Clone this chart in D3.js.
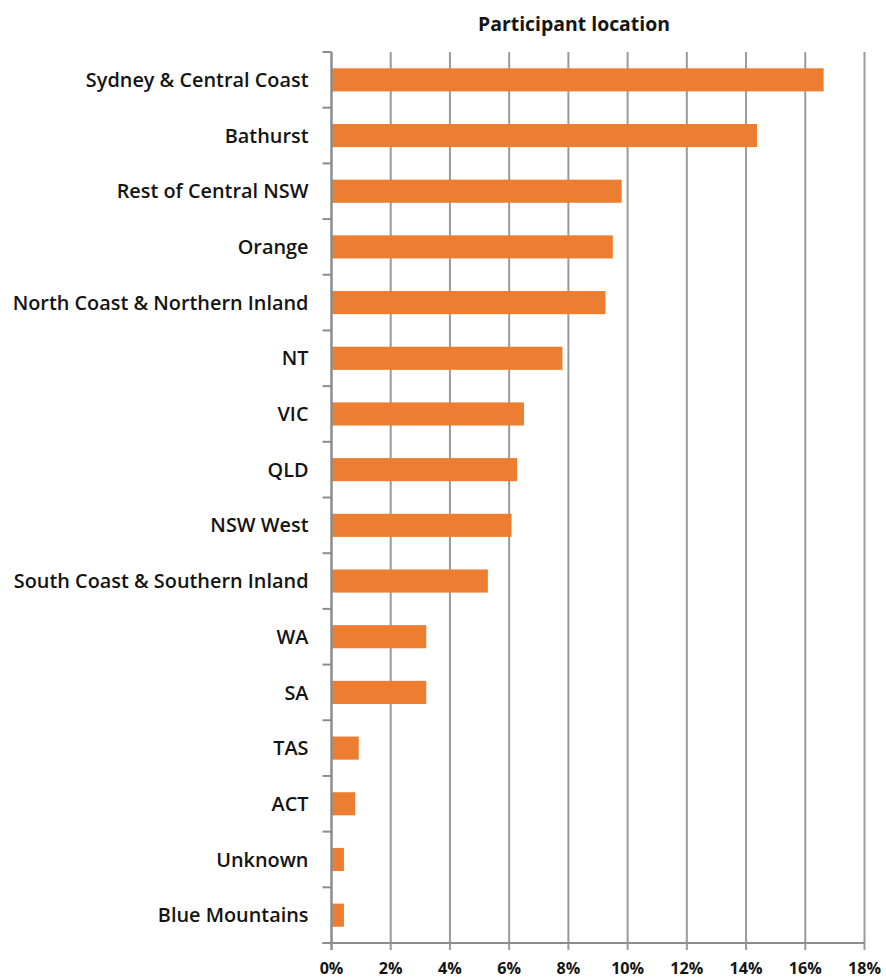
<!DOCTYPE html>
<html>
<head>
<meta charset="utf-8">
<script src="https://cdn.jsdelivr.net/npm/d3@7"></script>
<style>
  html, body { margin: 0; padding: 0; background: #fff; }
  svg text { font-family: "Open Sans", Lato, sans-serif; fill: #141414; }
</style>
</head>
<body>
<svg id="chart" width="886" height="978"></svg>
<script>
// Share of participants by location (percent)
const locations = [
  "Sydney & Central Coast", "Bathurst", "Rest of Central NSW", "Orange",
  "North Coast & Northern Inland", "NT", "VIC", "QLD", "NSW West",
  "South Coast & Southern Inland", "WA", "SA", "TAS", "ACT", "Unknown",
  "Blue Mountains"
];
const shares = [16.62, 14.37, 9.8, 9.5, 9.25, 7.8, 6.5, 6.27, 6.08, 5.28, 3.2, 3.2, 0.92, 0.8, 0.42, 0.42];
const tickValues = [0, 2, 4, 6, 8, 10, 12, 14, 16, 18];
const chartTitle = "Participant location";

const data = locations.map((name, i) => ({ name, value: shares[i] }));

const svg = d3.select("#chart");
const margin = { top: 52, left: 331.5 };
const plotW = 533, plotH = 891;

const x = d3.scaleLinear().domain([0, 18]).range([0, plotW]);
const y = d3.scaleBand().domain(locations).range([0, plotH]).paddingInner(0.585).paddingOuter(0.2925);

const g = svg.append("g").attr("transform", `translate(${margin.left},${margin.top})`);

// Vertical gridlines (extend below baseline as tick marks)
g.append("g").selectAll("line").data(tickValues.slice(1)).join("line")
  .attr("x1", d => x(d)).attr("x2", d => x(d))
  .attr("y1", 0).attr("y2", plotH + 7)
  .attr("stroke", "#9a9a9a").attr("stroke-width", 2);

// Bars
g.append("g").selectAll("rect").data(data).join("rect")
  .attr("x", x(0))
  .attr("y", d => y(d.name))
  .attr("width", d => x(d.value) - x(0))
  .attr("height", y.bandwidth())
  .attr("fill", "#ED7D31");

// Category axis with tick marks between categories
const boundaries = d3.range(locations.length + 1).map(i => i * plotH / locations.length);
g.append("g").selectAll("line").data(boundaries).join("line")
  .attr("x1", -9).attr("x2", 0)
  .attr("y1", d => d).attr("y2", d => d)
  .attr("stroke", "#8c8c8c").attr("stroke-width", 2);
g.append("line")
  .attr("x1", 0).attr("x2", 0).attr("y1", 0).attr("y2", plotH + 7)
  .attr("stroke", "#8c8c8c").attr("stroke-width", 2.5);

// Baseline of the value axis
g.append("line")
  .attr("x1", -9).attr("x2", x(18)).attr("y1", plotH).attr("y2", plotH)
  .attr("stroke", "#8c8c8c").attr("stroke-width", 2);

// Fit a text group's widest item to a target width
function fitWidth(sel, target, base) {
  let w = 0;
  sel.each(function () { w = Math.max(w, this.getComputedTextLength()); });
  sel.attr("font-size", base * target / w);
}

// Category labels
const catLabels = g.append("g").selectAll("text").data(locations).join("text")
  .attr("x", -23)
  .attr("y", d => y(d) + y.bandwidth() / 2)
  .attr("dy", "0.36em")
  .attr("text-anchor", "end")
  .attr("font-size", 16)
  .attr("font-weight", 600)
  .text(d => d);
fitWidth(catLabels, 296, 16);

// Value tick labels
const tickLabels = g.append("g").selectAll("text").data(tickValues).join("text")
  .attr("x", d => x(d))
  .attr("y", plotH + 31)
  .attr("text-anchor", "middle")
  .attr("font-size", 16)
  .attr("font-weight", 700)
  .text(d => d + "%");
fitWidth(tickLabels, 33, 16);

// Title
const title = svg.append("text")
  .attr("x", 574).attr("y", 31)
  .attr("text-anchor", "middle")
  .attr("font-size", 16)
  .attr("font-weight", 700)
  .text(chartTitle);
fitWidth(title, 192, 16);
</script>
</body>
</html>
